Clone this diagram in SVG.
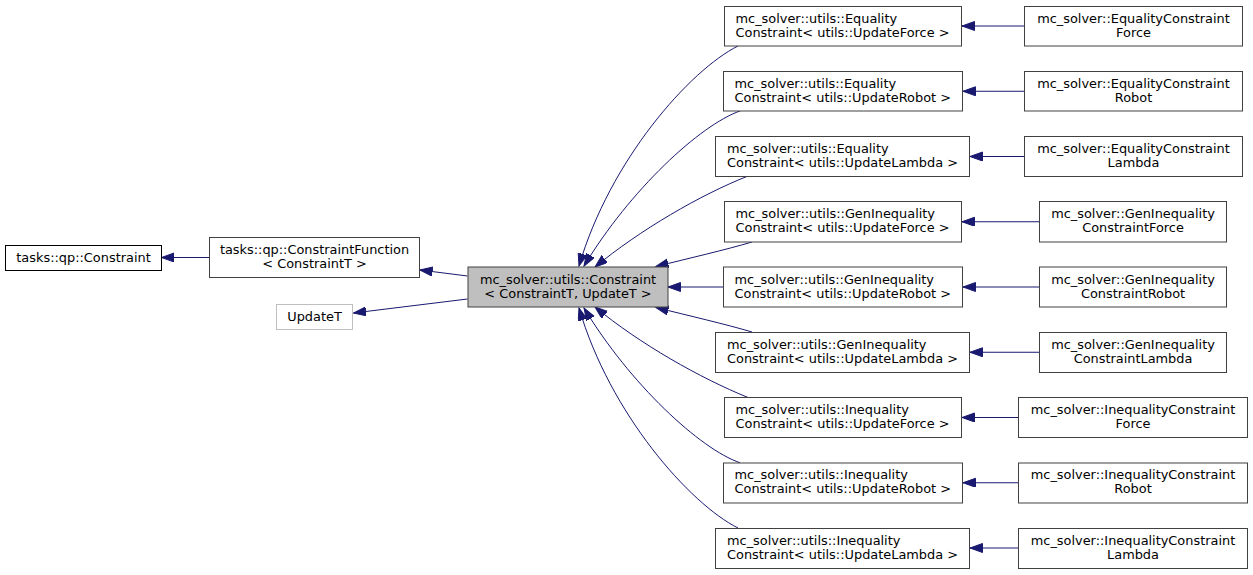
<svg xmlns="http://www.w3.org/2000/svg" width="1253" height="575" viewBox="0 0 1253 575">
<style>
  text { font-family: "DejaVu Sans", "Liberation Sans", sans-serif; font-size: 12.9px; fill: #000; }
  .c { text-anchor: middle; }
  .box { fill: #fff; stroke: #404040; stroke-width: 1; }
  .ext { fill: #fff; stroke: #000; stroke-width: 1; }
  .cur { fill: #bfbfbf; stroke: #404040; stroke-width: 1; }
  .tmpl { fill: #fff; stroke: #bfbfbf; stroke-width: 1; }
  .e { fill: none; stroke: #191970; stroke-width: 1; marker-end: url(#arr); }
</style>
<defs>
  <marker id="arr" markerUnits="userSpaceOnUse" markerWidth="14" markerHeight="11" refX="12.5" refY="4.5" orient="auto">
    <path d="M12.5,4.5 L0,0 L0,9 Z" fill="#191970" stroke="#191970" stroke-width="1"/>
  </marker>
</defs>
<rect width="1253" height="575" fill="#fff"/>

<g id="edges">
  <path class="e" d="M209,257.5 L161.5,257.5"/>
  <path class="e" d="M467.5,276 L420,270"/>
  <path class="e" d="M467.5,299 L353.5,313"/>
  <path class="e" d="M738,46 C690,70 610,160 579,266"/>
  <path class="e" d="M740,111 C700,125 630,190 584,266"/>
  <path class="e" d="M748,176 C700,195 640,230 595,267"/>
  <path class="e" d="M752,242 C725,250 690,258 656,266.5"/>
  <path class="e" d="M723,287 L668,287"/>
  <path class="e" d="M752,332 C725,324 690,316 656,307.5"/>
  <path class="e" d="M748,397.5 C700,378 640,344 595,307"/>
  <path class="e" d="M740,462.75 C700,449 630,384 584,308"/>
  <path class="e" d="M738,528 C690,504 610,414 579,308"/>
  <path class="e" d="M1024,26 L962,26"/>
  <path class="e" d="M1024,91.25 L963,91.25"/>
  <path class="e" d="M1024,156.5 L970,156.5"/>
  <path class="e" d="M1039,221.75 L962,221.75"/>
  <path class="e" d="M1039,287 L963,287"/>
  <path class="e" d="M1039,352.25 L970,352.25"/>
  <path class="e" d="M1018,417.5 L962,417.5"/>
  <path class="e" d="M1018,482.75 L963,482.75"/>
  <path class="e" d="M1018,548 L970,548"/>
</g>

<g id="n_tasks_constraint">
  <rect class="ext" x="5.5" y="245.5" width="156" height="25"/>
  <text class="c" x="83.5" y="262">tasks::qp::Constraint</text>
</g>
<g id="n_constraint_function">
  <rect class="box" x="209.5" y="237.5" width="210" height="40"/>
  <text class="c" x="314.5" y="254">tasks::qp::ConstraintFunction</text>
  <text class="c" x="314.5" y="268">&lt; ConstraintT &gt;</text>
</g>
<g id="n_updatet">
  <rect class="tmpl" x="276.5" y="304.5" width="76" height="25"/>
  <text class="c" x="314.5" y="321">UpdateT</text>
</g>
<g id="n_constraint">
  <rect class="cur" x="468" y="267" width="200" height="40"/>
  <text class="c" x="568" y="283.5">mc_solver::utils::Constraint</text>
  <text class="c" x="568" y="297.5">&lt; ConstraintT, UpdateT &gt;</text>
</g>

<g id="n_eq_force">
  <rect class="box" x="724.5" y="6.5" width="237" height="39.5"/>
  <text x="735.5" y="22.5">mc_solver::utils::Equality</text>
  <text x="735.5" y="36.5">Constraint&lt; utils::UpdateForce &gt;</text>
</g>
<g id="n_eq_robot">
  <rect class="box" x="723.5" y="71.5" width="239" height="39.5"/>
  <text x="734.5" y="87.75">mc_solver::utils::Equality</text>
  <text x="734.5" y="101.75">Constraint&lt; utils::UpdateRobot &gt;</text>
</g>
<g id="n_eq_lambda">
  <rect class="box" x="715.5" y="136.5" width="254" height="40"/>
  <text x="727" y="153">mc_solver::utils::Equality</text>
  <text x="727" y="167">Constraint&lt; utils::UpdateLambda &gt;</text>
</g>
<g id="n_gen_force">
  <rect class="box" x="724.5" y="201.5" width="237" height="40.5"/>
  <text x="735.5" y="218.25">mc_solver::utils::GenInequality</text>
  <text x="735.5" y="232.25">Constraint&lt; utils::UpdateForce &gt;</text>
</g>
<g id="n_gen_robot">
  <rect class="box" x="723.5" y="267" width="239" height="40"/>
  <text x="734.5" y="283.5">mc_solver::utils::GenInequality</text>
  <text x="734.5" y="297.5">Constraint&lt; utils::UpdateRobot &gt;</text>
</g>
<g id="n_gen_lambda">
  <rect class="box" x="715.5" y="332.5" width="254" height="40"/>
  <text x="727" y="348.75">mc_solver::utils::GenInequality</text>
  <text x="727" y="362.75">Constraint&lt; utils::UpdateLambda &gt;</text>
</g>
<g id="n_ineq_force">
  <rect class="box" x="724.5" y="397.5" width="237" height="40"/>
  <text x="735.5" y="414">mc_solver::utils::Inequality</text>
  <text x="735.5" y="428">Constraint&lt; utils::UpdateForce &gt;</text>
</g>
<g id="n_ineq_robot">
  <rect class="box" x="723.5" y="463" width="239" height="40"/>
  <text x="734.5" y="479.25">mc_solver::utils::Inequality</text>
  <text x="734.5" y="493.25">Constraint&lt; utils::UpdateRobot &gt;</text>
</g>
<g id="n_ineq_lambda">
  <rect class="box" x="715.5" y="528.5" width="254" height="40"/>
  <text x="727" y="544.5">mc_solver::utils::Inequality</text>
  <text x="727" y="558.5">Constraint&lt; utils::UpdateLambda &gt;</text>
</g>

<g id="n_eqc_force">
  <rect class="box" x="1024.5" y="6.5" width="218" height="39.5"/>
  <text class="c" x="1133.5" y="22.5">mc_solver::EqualityConstraint</text>
  <text class="c" x="1133.5" y="36.5">Force</text>
</g>
<g id="n_eqc_robot">
  <rect class="box" x="1024.5" y="71.5" width="218" height="39.5"/>
  <text class="c" x="1133.5" y="87.75">mc_solver::EqualityConstraint</text>
  <text class="c" x="1133.5" y="101.75">Robot</text>
</g>
<g id="n_eqc_lambda">
  <rect class="box" x="1024.5" y="136.5" width="218" height="40"/>
  <text class="c" x="1133.5" y="153">mc_solver::EqualityConstraint</text>
  <text class="c" x="1133.5" y="167">Lambda</text>
</g>
<g id="n_genc_force">
  <rect class="box" x="1039.5" y="201.5" width="187" height="40.5"/>
  <text class="c" x="1133" y="218.25">mc_solver::GenInequality</text>
  <text class="c" x="1133" y="232.25">ConstraintForce</text>
</g>
<g id="n_genc_robot">
  <rect class="box" x="1039.5" y="267" width="187" height="40"/>
  <text class="c" x="1133" y="283.5">mc_solver::GenInequality</text>
  <text class="c" x="1133" y="297.5">ConstraintRobot</text>
</g>
<g id="n_genc_lambda">
  <rect class="box" x="1039.5" y="332.5" width="187" height="40"/>
  <text class="c" x="1133" y="348.75">mc_solver::GenInequality</text>
  <text class="c" x="1133" y="362.75">ConstraintLambda</text>
</g>
<g id="n_ineqc_force">
  <rect class="box" x="1018.5" y="397.5" width="229" height="40"/>
  <text class="c" x="1133" y="414">mc_solver::InequalityConstraint</text>
  <text class="c" x="1133" y="428">Force</text>
</g>
<g id="n_ineqc_robot">
  <rect class="box" x="1018.5" y="463" width="229" height="40"/>
  <text class="c" x="1133" y="479.25">mc_solver::InequalityConstraint</text>
  <text class="c" x="1133" y="493.25">Robot</text>
</g>
<g id="n_ineqc_lambda">
  <rect class="box" x="1018.5" y="528.5" width="229" height="40"/>
  <text class="c" x="1133" y="544.5">mc_solver::InequalityConstraint</text>
  <text class="c" x="1133" y="558.5">Lambda</text>
</g>
</svg>
